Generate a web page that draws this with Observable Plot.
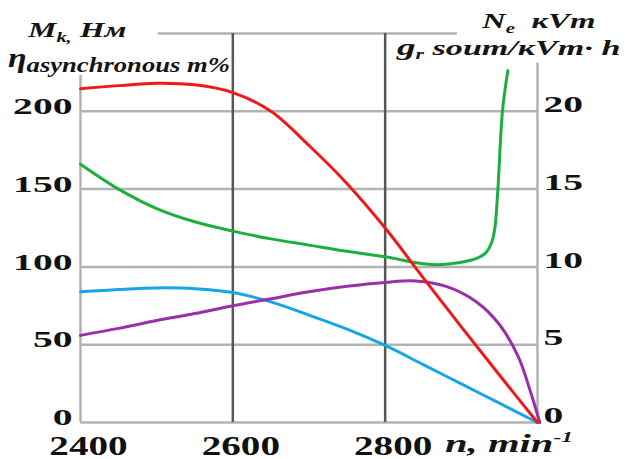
<!DOCTYPE html>
<html><head><meta charset="utf-8">
<script src="https://cdn.jsdelivr.net/npm/d3@7"></script>
<script src="https://cdn.jsdelivr.net/npm/@observablehq/plot@0.6"></script>
<style>body{margin:0;background:#fff} svg{display:block}</style>
</head><body><div id="chart"></div>
<script>
// Torque M_k, Нм (left axis)
const torqueN = [2400,2450,2500,2550,2600,2650,2700,2750,2800,2850,2900,2950,3000];
const torque  = [214.5,216.5,218,217,212,200,178,153.5,125,93,61.5,30.5,0];
// Efficiency η, % (left axis)
const effN = [2400,2450,2500,2550,2600,2650,2700,2750,2800,2850,2900,2950,3000];
const eff  = [84,85.5,86.5,86,83.5,77.5,69,60,49.5,37.2,24.8,12.4,0];
// Power N_e, кVm (right axis)
const powerN = [2400,2450,2500,2550,2600,2650,2700,2750,2800,2840,2880,2920,2950,2975,2990,3003];
const power  = [5.6,6.05,6.55,7.0,7.5,7.95,8.4,8.75,9.0,9.1,8.75,7.75,6.3,4.2,2.1,0];
// Specific consumption g_r (right axis)
const fuelN = [2400,2450,2500,2550,2600,2650,2700,2750,2800,2850,2875,2900,2920,2932,2940,2944,2948,2954,2961];
const fuel  = [16.6,15.0,13.75,12.9,12.3,11.8,11.4,11.0,10.65,10.2,10.15,10.3,10.55,10.9,11.6,12.5,15,20,22.6];

const xTicks = [2400,2600,2800];
const leftTicks = [0,50,100,150,200];
const rightTickLabels = ["0","5","10","15","20"];
const rightFactor = 10; // right axis unit -> left axis unit

const tbl = (ns, vs, k = 1) => ns.map((n, i) => ({n, v: vs[i] * k}));

const serif = "'Liberation Serif','Times New Roman',serif";
const light = "#b3b3b3", dark = "#575757";

const chart = Plot.plot({
  width: 625, height: 459,
  marginLeft: 80, marginRight: 88, marginTop: 33, marginBottom: 37,
  x: {domain: [2400, 3000]},
  y: {domain: [0, 250]},
  style: {fontFamily: serif, fontWeight: "bold", color: "#111", background: "#fff", fontSize: "24px"},
  marks: [
    Plot.ruleY(leftTicks, {x1: 2400, x2: 3000, stroke: light, strokeWidth: 2.5}),
    Plot.ruleY([250], {x1: 2502, x2: 2895, stroke: light, strokeWidth: 2.5}),
    Plot.ruleX([2400], {y1: 0, y2: 223, stroke: light, strokeWidth: 2.5}),
    Plot.ruleX([3000], {y1: 0, y2: 231, stroke: light, strokeWidth: 2.5}),
    Plot.ruleX([2600, 2800], {y1: 0, y2: 250, stroke: dark, strokeWidth: 2.5}),
    Plot.line(tbl(effN, eff), {x: "n", y: "v", stroke: "#17a5e8", strokeWidth: 3, curve: "catmull-rom"}),
    Plot.line(tbl(powerN, power, rightFactor), {x: "n", y: "v", stroke: "#9a2fa8", strokeWidth: 3, curve: "catmull-rom"}),
    Plot.line(tbl(fuelN, fuel, rightFactor), {x: "n", y: "v", stroke: "#1daf3e", strokeWidth: 3, curve: "catmull-rom"}),
    Plot.line(tbl(torqueN, torque), {x: "n", y: "v", stroke: "#f01818", strokeWidth: 3, curve: "catmull-rom"}),
    Plot.axisY({anchor: "left", ticks: leftTicks, tickSize: 0, tickPadding: 8, dy: -5, label: null}),
    Plot.axisY({anchor: "right", ticks: leftTicks, tickFormat: (d, i) => rightTickLabels[i], tickSize: 0, tickPadding: 6, dy: -7, label: null}),
    Plot.axisX({ticks: xTicks, tickFormat: d => String(d), tickSize: 0, tickPadding: 13, dx: 8, label: null})
  ]
});
document.getElementById("chart").append(chart);

const svg = d3.select(chart);
function stretch(sel, s, size) {
  svg.selectAll(sel).each(function () {
    const t = d3.select(this);
    t.attr("font-size", size);
    const tr = t.attr("transform");
    if (tr) t.attr("transform", tr + ` scale(${s},1)`);
    else {
      const x = +t.attr("x") || 0, y = +t.attr("y") || 0;
      t.attr("x", null).attr("y", null).attr("transform", `translate(${x},${y}) scale(${s},1)`);
    }
  });
}
stretch('g[aria-label="y-axis tick label"] text', 1.65, 24);
stretch('g[aria-label="x-axis tick label"] text', 1.45, 27);

// Titles with sub/superscripts; each fitted to a target width
function title(x, y, parts, width) {
  const t = svg.append("text")
    .attr("font-family", serif).attr("font-weight", "bold").attr("font-style", "italic")
    .attr("text-anchor", "start")
    .attr("fill", "#141414").attr("transform", `translate(${x},${y})`);
  for (const p of parts) t.append("tspan").attr("font-size", p.size).attr("dy", p.dy || 0).text(p.text);
  const w = t.node().getBBox().width;
  t.attr("transform", `translate(${x},${y}) scale(${width / w},1)`);
}
title(28, 37, [{text: "M", size: 22}, {text: "k,", size: 14, dy: 5}, {text: "\u00a0Нм", size: 22, dy: -5}], 100);
title(8, 67, [{text: "η", size: 28}, {text: "asynchronous m%", size: 22, dy: 5}], 222);
title(482, 28, [{text: "N", size: 22}, {text: "e", size: 14, dy: 5}, {text: "\u00a0\u00a0кVm", size: 22, dy: -5}], 115);
title(397, 55, [{text: "g", size: 24}, {text: "r", size: 14, dy: 4}, {text: "\u00a0soum/кVm· h", size: 22, dy: -4}], 225);
title(445, 452, [{text: "n, min", size: 26}, {text: "-1", size: 15, dy: -10}], 128);
</script></body></html>
